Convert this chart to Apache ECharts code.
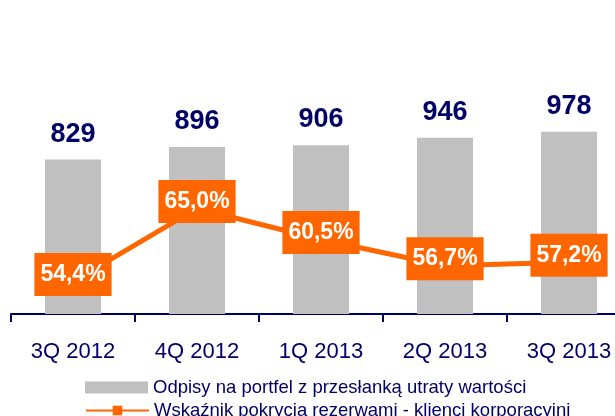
<!DOCTYPE html>
<html>
<head>
<meta charset="utf-8">
<script src="https://cdn.jsdelivr.net/npm/echarts@6/dist/echarts.min.js"></script>
<style>
  html, body { margin: 0; padding: 0; background: #fff; overflow: hidden; }
  /* wykres jest uciety z prawej strony, wiec plotno jest szersze od okna */
  #chart { width: 640px; height: 416px; }
</style>
</head>
<body>
<div id="chart"></div>
<script>
// dane z wykresu
const quarters = ["3Q 2012", "4Q 2012", "1Q 2013", "2Q 2013", "3Q 2013"];
const writeOffs = [829, 896, 906, 946, 978];
const coverage = [54.4, 65.0, 60.5, 56.7, 57.2];
const seriesNames = [
  "Odpisy na portfel z przesłanką utraty wartości",
  "Wskaźnik pokrycia rezerwami - klienci korporacyjni"
];

const navy = "#000066";
const orange = "#FF6600";
const font = "'Liberation Sans', Arial, sans-serif";

const chart = echarts.init(document.getElementById("chart"));

// jedna legenda na wiersz, zeby nic sie nie zawijalo
const legendRow = (name, top, icon) => ({
  orient: "horizontal",
  left: 80,
  top: top,
  itemWidth: 63,
  itemHeight: 12,
  textStyle: { color: navy, fontSize: 18.5, fontFamily: font },
  data: [icon ? { name, icon } : { name }]
});

const option = {
  animation: false,
  textStyle: { fontFamily: font },
  grid: { left: 11, top: 16, width: 620, height: 298 },
  legend: [
    legendRow(seriesNames[0], 373, "rect"),
    legendRow(seriesNames[1], 396)
  ],
  xAxis: {
    type: "category",
    data: quarters,
    axisLine: { show: true, lineStyle: { color: navy, width: 2 } },
    axisTick: { show: true, length: 8, lineStyle: { color: navy, width: 2 } },
    axisLabel: { color: navy, fontSize: 22, margin: 27, fontFamily: font }
  },
  yAxis: [
    { type: "value", show: false, min: 0, max: 1600 },
    { type: "value", show: false, min: 49.7, max: 92.9 }
  ],
  series: [
    {
      name: seriesNames[0],
      type: "bar",
      data: writeOffs,
      barWidth: 56,
      itemStyle: { color: "#C0C0C0" },
      label: {
        show: true,
        position: "top",
        distance: 12,
        color: navy,
        fontSize: 27,
        fontWeight: "bold",
        fontFamily: font
      }
    },
    {
      name: seriesNames[1],
      type: "line",
      yAxisIndex: 1,
      data: coverage,
      symbol: "rect",
      symbolSize: 9,
      itemStyle: { color: orange },
      lineStyle: { color: orange, width: 5 },
      label: {
        show: true,
        position: "inside",
        offset: [0, -7],
        backgroundColor: orange,
        padding: [10, 6],
        color: "#fff",
        fontSize: 23,
        lineHeight: 23,
        fontWeight: "bold",
        fontFamily: font,
        formatter: p => p.value.toFixed(1).replace(".", ",") + "%"
      },
      z: 3
    }
  ]
};

chart.setOption(option);
</script>
</body>
</html>
